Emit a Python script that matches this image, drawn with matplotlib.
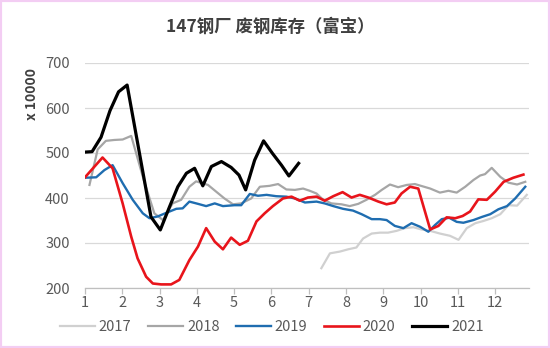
import matplotlib
matplotlib.use("Agg")
import matplotlib.pyplot as plt
from matplotlib.patches import Rectangle

plt.rcParams['font.family'] = ['Noto Sans CJK SC', 'DejaVu Sans']

# 月份位置（周度数据，x 为月份）与库存值（万吨）
x2017 = [7.34, 7.57, 7.84, 8.06, 8.28, 8.46, 8.69, 8.91, 9.13, 9.36, 9.58, 9.81, 10.03,
         10.26, 10.52, 10.79, 11.02, 11.24, 11.47, 11.69, 11.91, 12.14, 12.36, 12.59, 12.85]
y2017 = [244, 277, 281, 286, 290, 310, 321, 323, 323, 327, 333, 335, 330,
         327, 321, 316, 307, 333, 344, 349, 355, 364, 384, 383, 407]

x2018 = [1.12, 1.34, 1.56, 1.79, 2.01, 2.24, 2.59, 2.86, 3.09, 3.35,
         3.58, 3.80, 3.98, 4.30, 4.52, 4.74, 4.97, 5.19, 5.46, 5.69,
         5.95, 6.18, 6.40, 6.63, 6.85, 7.03, 7.21, 7.39, 7.61, 7.88,
         8.10, 8.33, 8.55, 8.78, 8.96, 9.18, 9.40, 9.63, 9.85,
         10.26, 10.52, 10.75, 10.97, 11.20, 11.42, 11.60, 11.73, 11.91, 12.14,
         12.36, 12.59, 12.81]
y2018 = [429, 508, 527, 529, 530, 538, 436, 366, 351, 388,
         396, 425, 437, 429, 414, 399, 386, 388, 399, 425,
         427, 431, 419, 418, 421, 416, 410, 396, 388, 386,
         382, 387, 396, 407, 418, 430, 424, 429, 431,
         421, 412, 416, 412, 425, 440, 450, 453, 467, 447,
         434, 430, 436]

x2019 = [1.00, 1.30, 1.52, 1.74, 2.01, 2.28, 2.55, 2.73, 2.95, 3.18,
         3.45, 3.62, 3.80, 4.03, 4.25, 4.48, 4.70, 5.01, 5.19, 5.42,
         5.64, 5.87, 6.13, 6.40, 6.63, 6.90, 7.21, 7.43, 7.66, 7.92,
         8.19, 8.42, 8.69, 8.91, 9.09, 9.31, 9.54, 9.76, 9.99, 10.21,
         10.39, 10.57, 10.77, 10.97, 11.15, 11.42, 11.65, 11.87, 12.09, 12.32,
         12.54, 12.81]
y2019 = [445, 446, 462, 473, 433, 396, 366, 355, 359, 367,
         376, 377, 392, 387, 382, 388, 382, 384, 384, 409,
         405, 407, 404, 403, 399, 390, 392, 388, 382, 376,
         372, 364, 353, 353, 351, 338, 333, 344, 336, 325,
         340, 353, 356, 347, 345, 351, 358, 364, 375, 382,
         399, 425]

x2020 = [1.00, 1.47, 1.74, 2.01, 2.24, 2.41, 2.64, 2.82, 3.04, 3.31,
         3.53, 3.80, 4.03, 4.25, 4.48, 4.70, 4.92, 5.15, 5.37, 5.60,
         5.82, 6.04, 6.31, 6.54, 6.76, 6.98, 7.21, 7.43, 7.66, 7.91,
         8.15, 8.37, 8.60, 8.87, 9.09, 9.31, 9.49, 9.72, 9.94, 10.26,
         10.48, 10.70, 10.93, 11.13, 11.33, 11.55, 11.78, 12.00, 12.23, 12.49,
         12.76]
y2020 = [446, 490, 466, 388, 314, 266, 225, 210, 208, 208,
         218, 262, 292, 333, 303, 286, 312, 296, 305, 348,
         366, 382, 399, 403, 394, 401, 403, 394, 404, 413,
         401, 407, 401, 392, 386, 390, 410, 425, 421, 330,
         338, 357, 355, 360, 370, 397, 396, 414, 436, 445,
         452]

x2021 = [1.00, 1.19, 1.43, 1.67, 1.90, 2.13, 2.77, 3.02, 3.27, 3.49,
         3.72, 3.94, 4.16, 4.39, 4.66, 4.92, 5.13, 5.31, 5.55, 5.79,
         6.03, 6.27, 6.47, 6.73]
y2021 = [502, 503, 535, 594, 636, 651, 358, 329, 381, 425,
         455, 466, 427, 470, 481, 468, 451, 418, 484, 527,
         499, 473, 449, 477]

month_ticks = list(range(1, 13))
y_ticks = [200, 300, 400, 500, 600, 700]

fig = plt.figure(figsize=(5.5, 3.48), dpi=100)
ax = fig.add_axes([85/550, 1 - 288/348, (529 - 85)/550, (288 - 63)/348])

ax.plot(x2017, y2017, color='#d0d0d0', lw=1.6, label='2017')
ax.plot(x2018, y2018, color='#a6a6a6', lw=1.6, label='2018')
ax.plot(x2019, y2019, color='#1f6db0', lw=1.7, label='2019')
ax.plot(x2020, y2020, color='#e8141b', lw=1.9, label='2020')
ax.plot(x2021, y2021, color='#000000', lw=2.3, label='2021')

ax.set_xlim(1, 12.91)
ax.set_ylim(200, 700)
ax.set_xticks(month_ticks)
ax.set_yticks(y_ticks)
ax.grid(axis='y', color='#d9d9d9', lw=0.9)
ax.set_axisbelow(True)
for s in ['top', 'right', 'left']:
    ax.spines[s].set_visible(False)
ax.spines['bottom'].set_color('#bfbfbf')
ax.spines['bottom'].set_linewidth(0.9)
ax.tick_params(axis='x', colors='#bfbfbf', length=4, width=0.9, pad=2,
               labelcolor='#595959', labelsize=10.5)
ax.tick_params(axis='y', length=0, pad=11, labelcolor='#595959', labelsize=10.5)

fig.text(270/550, 1 - 27/348, '147钢厂 废钢库存（富宝）', ha='center', va='center',
         fontsize=12.5, fontweight='bold', color='#404040')
fig.text(32/550, 1 - 94/348, 'x 10000', rotation=90, ha='center', va='center',
         fontsize=10, fontweight='bold', color='#404040')

fig.legend(loc='center', bbox_to_anchor=(272/550, 1 - 327/348), ncol=5, frameon=False,
           fontsize=10.5, handlelength=2.4, handletextpad=0.25, columnspacing=1.15,
           labelcolor='#595959')

fig.patches.append(Rectangle((0, 0), 1, 1, transform=fig.transFigure, fill=False,
                             edgecolor='#f3cdf3', lw=3))

fig.savefig('out.png', dpi=100)
